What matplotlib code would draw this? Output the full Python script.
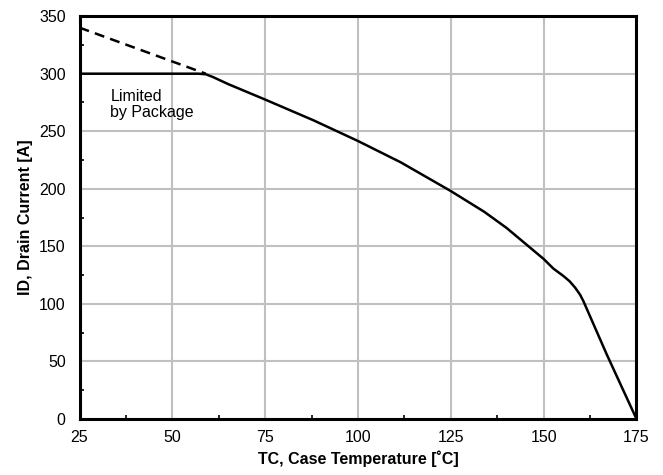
import matplotlib.pyplot as plt
from matplotlib.ticker import MultipleLocator

plt.rcParams['font.family'] = ['Liberation Sans', 'DejaVu Sans']

# Drain current derating curve
tc = [25, 57, 59, 61, 65, 75, 88, 100, 111.5, 125, 131, 134, 140, 145, 150,
      152.6, 155.4, 157, 158.5, 159.8, 160.7, 167, 175]
id_a = [300, 300, 299.5, 297, 291, 277.5, 259.5, 241.5, 223, 198, 186, 180, 166, 152.5, 139,
        130.7, 124, 119.6, 114, 108, 102.4, 56, 0]

# Silicon limit above the package limit
tc_si = [25, 59]
id_si = [340, 300]

fig, ax = plt.subplots(figsize=(6.63, 4.75), dpi=100)
fig.subplots_adjust(left=0.12, right=0.96, bottom=0.118, top=0.966)

ax.plot(tc_si, id_si, color='black', lw=1.8, ls=(0, (4, 2.5)))
ax.plot(tc, id_a, color='black', lw=1.8, solid_joinstyle='round')

ax.text(33.3, 287, 'Limited\nby Package', fontsize=11.5, va='top', ha='left', linespacing=1.15)

ax.set_xlim(25, 175)
ax.set_ylim(0, 350)
ax.xaxis.set_major_locator(MultipleLocator(25))
ax.yaxis.set_major_locator(MultipleLocator(50))
ax.xaxis.set_minor_locator(MultipleLocator(12.5))
ax.yaxis.set_minor_locator(MultipleLocator(25))
ax.grid(True, which='major', color='#c0c0c0', lw=1.5)
ax.set_axisbelow(True)
ax.tick_params(which='major', length=0, labelsize=11.5)
ax.tick_params(axis='x', which='major', pad=8)
ax.tick_params(axis='y', which='major', pad=10)
ax.tick_params(which='minor', direction='in', length=3, width=1.2)

for s in ax.spines.values():
    s.set_linewidth(2.2)

ax.set_xlabel('TC, Case Temperature [˚C]', fontsize=11.5, fontweight='bold', labelpad=4)
ax.set_ylabel('ID, Drain Current [A]', fontsize=11.5, fontweight='bold', labelpad=4)

plt.savefig('out.png')
